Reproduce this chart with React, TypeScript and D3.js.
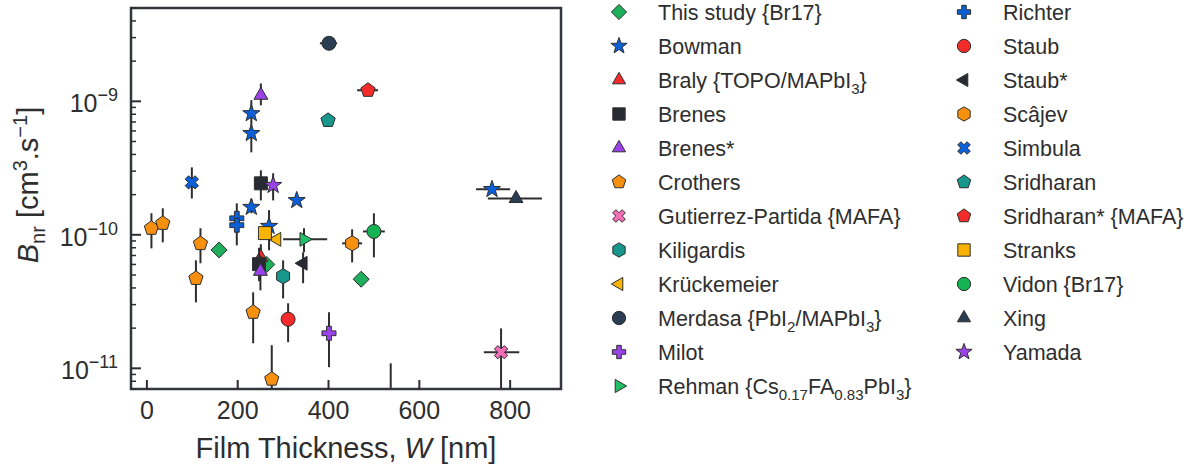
import React from "react";
import * as d3 from "d3";

// film thickness W [nm], B_nr [cm3/s]; error bounds as [lo, hi]
type Pt = { w: number; b: number; bErr?: [number, number]; wErr?: [number, number] };

const thisStudy: Pt[] = [
  { w: 159, b: 7.7e-11 },
  { w: 264, b: 6.0e-11 },
  { w: 472, b: 4.65e-11 },
];
const bowman: Pt[] = [
  { w: 230, b: 8.1e-10, bErr: [7.0e-10, 1.02e-9] },
  { w: 230, b: 5.75e-10, bErr: [4.15e-10, 7.0e-10] },
  { w: 230, b: 1.61e-10, bErr: [1.45e-10, 1.85e-10] },
  { w: 330, b: 1.81e-10 },
  { w: 269, b: 1.16e-10, bErr: [7.66e-11, 1.53e-10] },
  { w: 760, b: 2.19e-10, wErr: [725, 800] },
];
const braly: Pt[] = [{ w: 251, b: 6.77e-11, bErr: [5.2e-11, 8.5e-11] }];
const brenes: Pt[] = [
  { w: 251, b: 2.43e-10, bErr: [1.81e-10, 3.04e-10] },
  { w: 247, b: 6.03e-11, bErr: [4.5e-11, 8.0e-11] },
];
const brenesStar: Pt[] = [
  { w: 251, b: 1.11e-9, bErr: [9.33e-10, 1.36e-9] },
  { w: 250, b: 5.33e-11, bErr: [3.84e-11, 7.0e-11] },
];
const crothers: Pt[] = [
  { w: 10, b: 1.12e-10, bErr: [7.92e-11, 1.45e-10] },
  { w: 35, b: 1.22e-10, bErr: [8.79e-11, 1.58e-10] },
  { w: 118, b: 8.6e-11, bErr: [6.12e-11, 1.12e-10] },
  { w: 108, b: 4.72e-11, bErr: [3.12e-11, 6.44e-11] },
  { w: 234, b: 2.63e-11, bErr: [1.54e-11, 3.71e-11] },
  { w: 275, b: 8.3e-12, bErr: [4.7e-12, 1.49e-11] },
  { w: 537, b: 4.5e-12, bErr: [2.0e-12, 1.09e-11] },
];
const gutierrez: Pt[] = [{ w: 780, b: 1.32e-11, bErr: [5.0e-12, 1.99e-11], wErr: [742, 820] }];
const kiligardis: Pt[] = [{ w: 300, b: 4.89e-11, bErr: [3.34e-11, 6.44e-11] }];
const kruckemeier: Pt[] = [{ w: 286, b: 9.25e-11 }];
const merdasa: Pt[] = [{ w: 401, b: 2.72e-9, wErr: [381, 419] }];
const milot: Pt[] = [{ w: 401, b: 1.83e-11, bErr: [1.02e-11, 2.63e-11] }];
const rehman: Pt[] = [{ w: 346, b: 9.25e-11, bErr: [7.4e-11, 1.12e-10], wErr: [300, 397] }];
const richter: Pt[] = [
  { w: 198, b: 1.33e-10, bErr: [1.2e-10, 1.72e-10] },
  { w: 198, b: 1.18e-10, bErr: [8.33e-11, 1.3e-10] },
];
const staub: Pt[] = [{ w: 311, b: 2.33e-11, bErr: [1.57e-11, 3.07e-11] }];
const staubStar: Pt[] = [{ w: 344, b: 6.12e-11, bErr: [4.34e-11, 7.4e-11] }];
const scajev: Pt[] = [{ w: 452, b: 8.63e-11, bErr: [6.22e-11, 1.1e-10], wErr: [430, 474] }];
const simbula: Pt[] = [{ w: 99, b: 2.47e-10, bErr: [1.87e-10, 3.2e-10] }];
const sridharan: Pt[] = [{ w: 399, b: 7.2e-10 }];
const sridharanStar: Pt[] = [{ w: 487, b: 1.21e-9, wErr: [463, 509] }];
const stranks: Pt[] = [{ w: 260, b: 1.03e-10 }];
const vidon: Pt[] = [{ w: 500, b: 1.06e-10, bErr: [6.78e-11, 1.45e-10], wErr: [476, 524] }];
const xing: Pt[] = [{ w: 813, b: 1.87e-10, wErr: [751, 870] }];
const yamada: Pt[] = [{ w: 278, b: 2.35e-10, bErr: [1.81e-10, 2.89e-10] }];

// ~x~ marks a subscript
const labels = [
  "This study {Br17}", "Bowman", "Braly {TOPO/MAPbI~3~}", "Brenes", "Brenes*", "Crothers",
  "Gutierrez-Partida {MAFA}", "Kiligardis", "Krückemeier", "Merdasa {PbI~2~/MAPbI~3~}", "Milot",
  "Rehman {Cs~0.17~FA~0.83~PbI~3~}", "Richter", "Staub", "Staub*", "Scâjev", "Simbula",
  "Sridharan", "Sridharan* {MAFA}", "Stranks", "Vidon {Br17}", "Xing", "Yamada",
];
const markers = [
  "diamond", "star", "triUp", "square", "triUp", "pentagon", "x", "hexagon", "triLeft", "circle",
  "plus", "triRight", "plus", "circle", "triLeft", "hexagon", "x", "pentagon", "pentagon", "square",
  "circle", "triUp", "star",
];
const colors = [
  "#1fae5b", "#0b5fd8", "#f42b2b", "#272a33", "#9b42ea", "#f8900f", "#f36db8", "#17968c", "#f8b400",
  "#2b3d53", "#9b42ea", "#22bf68", "#0b5fd8", "#f42b2b", "#272a33", "#f8900f", "#0b5fd8", "#17968c",
  "#f42b2b", "#f8b400", "#13b253", "#2b3d53", "#9b42ea",
];
const allData = [
  thisStudy, bowman, braly, brenes, brenesStar, crothers, gutierrez, kiligardis, kruckemeier, merdasa,
  milot, rehman, richter, staub, staubStar, scajev, simbula, sridharan, sridharanStar, stranks, vidon,
  xing, yamada,
];

const xTicks = [0, 200, 400, 600, 800];
const yMajor = [1e-11, 1e-10, 1e-9];
const yTickLabels = ["−11", "−10", "−9"];

const INK = "#2e2e2e";
const FONT = "'Liberation Sans', Arial, Helvetica, sans-serif";

const poly = (n: number, rot: number, r: number) => {
  const pts = d3.range(n).map((i) => {
    const a = rot + (i * 2 * Math.PI) / n;
    return [r * Math.cos(a), r * Math.sin(a)];
  });
  return "M" + pts.map((p) => p.join(",")).join("L") + "Z";
};

function markerPath(kind: string, s: number): string {
  const up = -Math.PI / 2;
  switch (kind) {
    case "circle": {
      const r = 7 * s;
      return `M${r},0A${r},${r} 0 1,1 ${-r},0A${r},${r} 0 1,1 ${r},0Z`;
    }
    case "square": {
      const h = 6.5 * s;
      return `M${-h},${-h}L${h},${-h}L${h},${h}L${-h},${h}Z`;
    }
    case "diamond":
      return poly(4, up, 8 * s);
    case "triUp":
      return poly(3, up, 8 * s);
    case "triLeft":
      return poly(3, Math.PI, 8 * s);
    case "triRight":
      return poly(3, 0, 8 * s);
    case "pentagon":
      return poly(5, up, 7.5 * s);
    case "hexagon":
      return poly(6, up, 7.5 * s);
    case "star": {
      const pts = d3.range(10).map((i) => {
        const r = (i % 2 === 0 ? 9 : 3.6) * s;
        const a = up + (i * Math.PI) / 5;
        return [r * Math.cos(a), r * Math.sin(a)];
      });
      return "M" + pts.map((p) => p.join(",")).join("L") + "Z";
    }
    case "plus":
    case "x": {
      const a = 7 * s, w = 2.4 * s;
      let pts = [
        [-w, -a], [w, -a], [w, -w], [a, -w], [a, w], [w, w],
        [w, a], [-w, a], [-w, w], [-a, w], [-a, -w], [-w, -w],
      ];
      if (kind === "x") {
        const c = Math.SQRT1_2;
        pts = pts.map(([x, y]) => [c * (x - y), c * (x + y)]);
      }
      return "M" + pts.map((p) => p.join(",")).join("L") + "Z";
    }
  }
  return "";
}

function RichText({ text, size }: { text: string; size: number }) {
  const parts = text.split("~");
  const shift = size * 0.28;
  let cur = 0;
  return (
    <>
      {parts.map((p, i) => {
        if (p === "") return null;
        const sub = i % 2 === 1;
        const target = sub ? shift : 0;
        const dy = target - cur;
        cur = target;
        return (
          <tspan key={i} dy={dy} fontSize={sub ? size * 0.7 : size}>
            {p}
          </tspan>
        );
      })}
    </>
  );
}

export default function App() {
  const width = 1193, height = 468;
  const left = 131, top = 8, right = 561, bottom = 389;

  const x = d3.scaleLinear().domain([-35, 912]).range([left, right]);
  const y = d3.scaleLog().domain([7e-12, 5e-9]).range([bottom, top]);

  const yMinor: number[] = [];
  for (let e = -12; e <= -9; e++) {
    for (let m = 2; m <= 9; m++) {
      const v = m * Math.pow(10, e);
      if (v >= 7e-12 && v <= 5e-9) yMinor.push(v);
    }
  }

  return (
    <svg width={width} height={height} style={{ position: "absolute", left: 0, top: 0, background: "#fff" }} fontFamily={FONT}>
      <defs>
        <clipPath id="plotClip">
          <rect x={left} y={top} width={right - left} height={bottom - top} />
        </clipPath>
      </defs>

      {/* data */}
      <g clipPath="url(#plotClip)">
        {allData.map((pts, si) => (
          <g key={si}>
            {pts.map((p, i) => (
              <g key={i}>
                {p.bErr && (
                  <line x1={x(p.w)} x2={x(p.w)} y1={y(p.bErr[0])} y2={y(p.bErr[1])} stroke={INK} strokeWidth={2} />
                )}
                {p.wErr && (
                  <line x1={x(p.wErr[0])} x2={x(p.wErr[1])} y1={y(p.b)} y2={y(p.b)} stroke={INK} strokeWidth={2} />
                )}
              </g>
            ))}
            {pts.map((p, i) => (
              <path
                key={"m" + i}
                d={markerPath(markers[si], 1)}
                transform={`translate(${x(p.w)},${y(p.b)})`}
                fill={colors[si]}
                stroke={INK}
                strokeWidth={1}
                strokeLinejoin="miter"
              />
            ))}
          </g>
        ))}
      </g>

      {/* axes frame */}
      <rect x={left} y={top} width={right - left} height={bottom - top} fill="none" stroke="#33363c" strokeWidth={2.5} />

      {/* x ticks */}
      {xTicks.map((t) => (
        <g key={t}>
          <line x1={x(t)} x2={x(t)} y1={bottom} y2={bottom - 9} stroke={INK} strokeWidth={2} />
          <text x={x(t)} y={bottom + 30} textAnchor="middle" fontSize={25} fill={INK}>
            {t}
          </text>
        </g>
      ))}

      {/* y ticks */}
      {yMinor.map((t) => (
        <line key={t} x1={left} x2={left + 5} y1={y(t)} y2={y(t)} stroke={INK} strokeWidth={1.5} />
      ))}
      {yMajor.map((t, i) => (
        <g key={t}>
          <line x1={left} x2={left + 10} y1={y(t)} y2={y(t)} stroke={INK} strokeWidth={2} />
          <text x={118} y={y(t) + 11} textAnchor="end" fontSize={25} fill={INK}>
            <tspan>10</tspan>
            <tspan dy={-11} fontSize={18}>
              {yTickLabels[i]}
            </tspan>
          </text>
        </g>
      ))}

      {/* axis labels */}
      <text x={(left + right) / 2} y={458} textAnchor="middle" fontSize={29} fill={INK}>
        Film Thickness, <tspan fontStyle="italic">W</tspan> [nm]
      </text>
      <text transform="translate(38,185) rotate(-90)" textAnchor="middle" fontSize={29} fill={INK}>
        <tspan fontStyle="italic">B</tspan>
        <tspan dy={7} fontSize={20}>nr</tspan>
        <tspan dy={-7}> [cm</tspan>
        <tspan dy={-11} fontSize={20}>3</tspan>
        <tspan dy={11}>.s</tspan>
        <tspan dy={-11} fontSize={20}>−1</tspan>
        <tspan dy={11}>]</tspan>
      </text>

      {/* legend */}
      {labels.map((lab, i) => {
        const col = i < 12 ? 0 : 1;
        const row = i < 12 ? i : i - 12;
        const mx = col === 0 ? 619 : 964;
        const tx = col === 0 ? 658 : 1003;
        const ly = 12 + row * 34;
        return (
          <g key={lab}>
            <path d={markerPath(markers[i], 0.95)} transform={`translate(${mx},${ly})`} fill={colors[i]} stroke={INK} strokeWidth={1} />
            <text x={tx} y={ly + 7.5} fontSize={21.5} fill={INK}>
              <RichText text={lab} size={21.5} />
            </text>
          </g>
        );
      })}
    </svg>
  );
}
